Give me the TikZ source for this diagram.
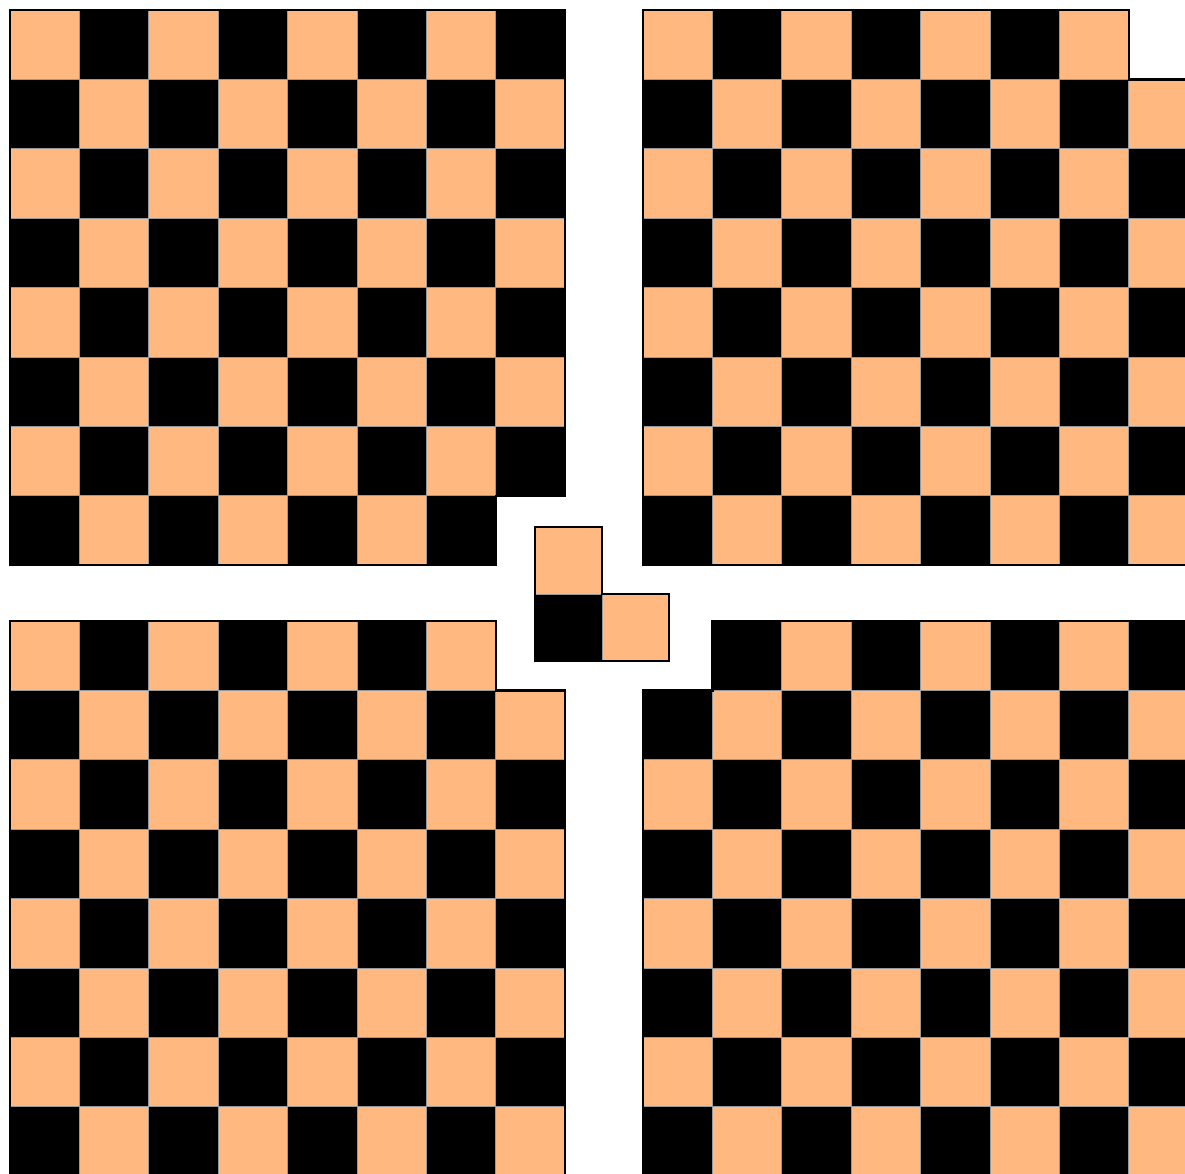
\documentclass[tikz,border=0pt]{standalone}
\definecolor{peach}{RGB}{254,184,128}
\tikzset{
  cellO/.style={fill=peach,draw=gray!80,line width=0.8},
  cellB/.style={fill=black,draw=gray!80,line width=0.8},
  outline/.style={draw=black,line width=2.4,line join=miter}
}
\newcommand\drawboard[4]{%
  \foreach \r in {0,...,7}{%
    \foreach \c in {0,...,7}{%
      \pgfmathtruncatemacro\s{mod(\r+\c,2)}%
      \pgfmathtruncatemacro\m{and(\r==#3,\c==#4)}%
      \ifnum\m=0
        \ifnum\s=0
          \path[cellO] ({#1+\c*69.4},{#2+\r*69.4}) rectangle ++(69.4,69.4);
        \else
          \path[cellB] ({#1+\c*69.4},{#2+\r*69.4}) rectangle ++(69.4,69.4);
        \fi
      \fi
    }%
  }%
}
\begin{document}
\begin{tikzpicture}[x=1pt,y=-1pt]
\useasboundingbox (0,0) rectangle (1185,1174);
\clip (0,0) rectangle (1185,1174);
% top-left board, missing bottom-right
\drawboard{10}{10}{7}{7}
\path[outline] (10,10) -- (565.2,10) -- (565.2,495.8) -- (495.8,495.8) -- (495.8,565.2) -- (10,565.2) -- cycle;
% top-right board, missing top-right
\drawboard{643}{10}{0}{7}
\path[outline] (643,10) -- (1128.8,10) -- (1128.8,79.4) -- (1198.2,79.4) -- (1198.2,565.2) -- (643,565.2) -- cycle;
% bottom-left board, missing top-right
\drawboard{10}{621}{0}{7}
\path[outline] (10,621) -- (495.8,621) -- (495.8,690.4) -- (565.2,690.4) -- (565.2,1176.2) -- (10,1176.2) -- cycle;
% bottom-right board, missing top-left
\drawboard{643}{621}{0}{0}
\path[outline] (712.4,621) -- (1198.2,621) -- (1198.2,1176.2) -- (643,1176.2) -- (643,690.4) -- (712.4,690.4) -- cycle;
% tromino
\path[cellO] (535,527) rectangle ++(67,67);
\path[cellB] (535,594) rectangle ++(67,67);
\path[cellO] (602,594) rectangle ++(67,67);
\path[outline] (535,527) -- (602,527) -- (602,594) -- (669,594) -- (669,661) -- (535,661) -- cycle;
\end{tikzpicture}
\end{document}
